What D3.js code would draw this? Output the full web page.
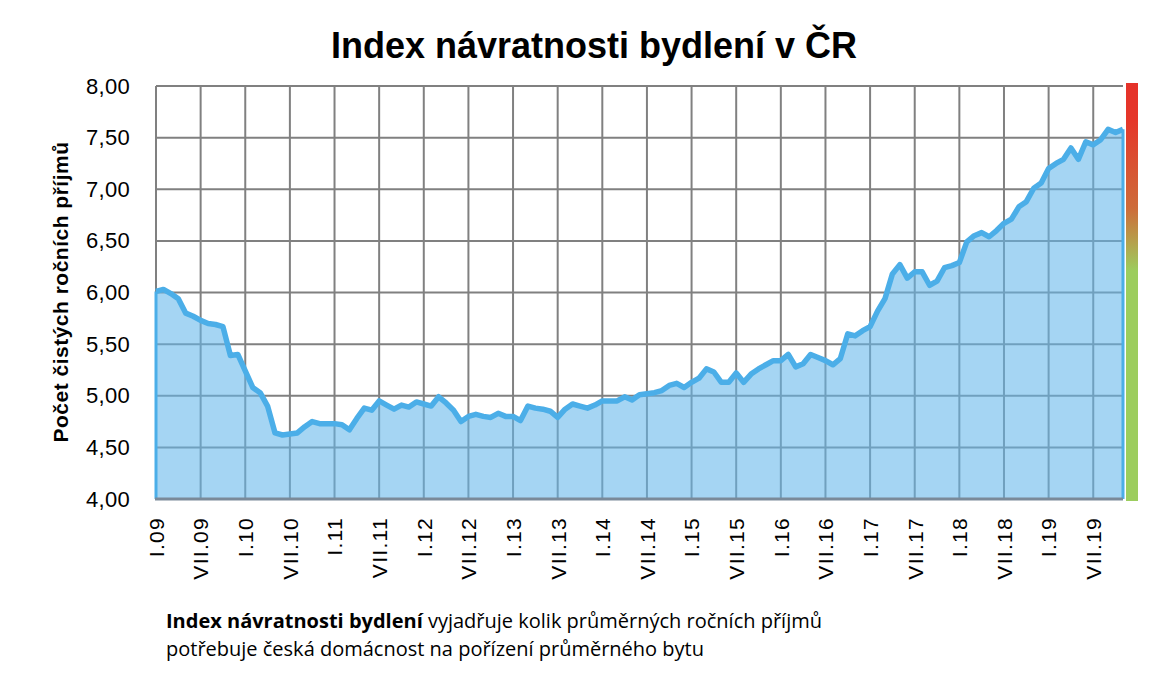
<!DOCTYPE html>
<html>
<head>
<meta charset="utf-8">
<script src="https://cdn.jsdelivr.net/npm/d3@7"></script>
<style>
  body { margin: 0; background: #fff; }
  svg { display: block; }
</style>
</head>
<body>
<svg id="chart" width="1158" height="674"></svg>
<script>
// index values, monthly I.09 .. XI.19
const values = [
  6.01, 6.03, 5.99, 5.94, 5.80, 5.77, 5.73, 5.70, 5.69, 5.67, 5.39, 5.40,
  5.24, 5.08, 5.03, 4.90, 4.64, 4.62, 4.63, 4.64, 4.70, 4.75, 4.73, 4.73,
  4.73, 4.72, 4.67, 4.78, 4.88, 4.86, 4.95, 4.91, 4.87, 4.91, 4.89, 4.94,
  4.92, 4.90, 4.99, 4.93, 4.86, 4.75, 4.80, 4.82, 4.80, 4.79, 4.83, 4.80,
  4.80, 4.76, 4.90, 4.88, 4.87, 4.85, 4.79, 4.87, 4.92, 4.90, 4.88, 4.91,
  4.95, 4.95, 4.95, 4.99, 4.96, 5.01, 5.02, 5.03, 5.05, 5.10, 5.12, 5.08,
  5.13, 5.17, 5.26, 5.23, 5.13, 5.13, 5.22, 5.13, 5.21, 5.26, 5.30, 5.34,
  5.34, 5.40, 5.28, 5.31, 5.40, 5.37, 5.34, 5.30, 5.36, 5.60, 5.58, 5.63,
  5.67, 5.82, 5.94, 6.18, 6.27, 6.14, 6.20, 6.20, 6.07, 6.11, 6.24, 6.26,
  6.29, 6.49, 6.55, 6.58, 6.54, 6.60, 6.67, 6.71, 6.83, 6.88, 7.01, 7.06,
  7.20, 7.25, 7.29, 7.40, 7.29, 7.46, 7.43, 7.48, 7.58, 7.55, 7.58
];
const romans = ['I','II','III','IV','V','VI','VII','VIII','IX','X','XI','XII'];
const years = ['09','10','11','12','13','14','15','16','17','18','19'];
const months = [];
years.forEach(y => romans.forEach(r => months.push(r + '.' + y)));
const categories = months.slice(0, values.length);
const tickLabels = [
  'I.09','VII.09','I.10','VII.10','I.11','VII.11','I.12','VII.12','I.13','VII.13','I.14',
  'VII.14','I.15','VII.15','I.16','VII.16','I.17','VII.17','I.18','VII.18','I.19','VII.19'
];
const yTicks = [4, 4.5, 5, 5.5, 6, 6.5, 7, 7.5, 8];

const svg = d3.select('#chart');
const plotLeft = 156, plotRight = 1123, plotTop = 86, plotBottom = 499;

const x = d3.scalePoint().domain(categories).range([plotLeft, plotRight]);
const y = d3.scaleLinear().domain([4, 8]).range([plotBottom, plotTop]);
const fmt = v => d3.format('.2f')(v).replace('.', ',');

// title
svg.append('text')
  .attr('x', 594).attr('y', 58)
  .attr('text-anchor', 'middle')
  .style('font-family', '"Liberation Sans", Arial, sans-serif')
  .style('font-weight', 'bold')
  .style('font-size', '36px')
  .text('Index návratnosti bydlení v ČR');

// grid
const grid = svg.append('g');
grid.selectAll('line.h').data(yTicks).enter().append('line')
  .attr('x1', plotLeft).attr('x2', plotRight)
  .attr('y1', d => y(d)).attr('y2', d => y(d))
  .attr('stroke', '#808080').attr('stroke-width', 2);
grid.selectAll('line.v').data(tickLabels).enter().append('line')
  .attr('x1', d => x(d)).attr('x2', d => x(d))
  .attr('y1', plotTop).attr('y2', plotBottom)
  .attr('stroke', '#808080').attr('stroke-width', 2);

// area
const area = d3.area()
  .x((d, i) => x(categories[i]))
  .y0(plotBottom)
  .y1(d => y(d));
svg.append('path')
  .datum(values)
  .attr('d', area)
  .attr('fill', 'rgb(100,183,234)')
  .attr('fill-opacity', 0.58);

// edges of the area
const lastCat = categories[values.length - 1];
svg.append('line')
  .attr('x1', x(categories[0])).attr('x2', x(categories[0]))
  .attr('y1', plotBottom).attr('y2', y(values[0]))
  .attr('stroke', '#4baee8').attr('stroke-width', 3);
svg.append('line')
  .attr('x1', x(lastCat)).attr('x2', x(lastCat))
  .attr('y1', plotBottom).attr('y2', y(values[values.length - 1]))
  .attr('stroke', '#4baee8').attr('stroke-width', 3);

// data line
const line = d3.line()
  .x((d, i) => x(categories[i]))
  .y(d => y(d));
svg.append('path')
  .datum(values)
  .attr('d', line)
  .attr('fill', 'none')
  .attr('stroke', '#4baee8')
  .attr('stroke-width', 5.5)
  .attr('stroke-linejoin', 'round');

// bottom axis line
svg.append('line')
  .attr('x1', plotLeft - 1).attr('x2', plotRight)
  .attr('y1', plotBottom).attr('y2', plotBottom)
  .attr('stroke', '#7a8a99').attr('stroke-width', 3);

// y axis labels
const yAxis = d3.axisLeft(y).tickValues(yTicks).tickFormat(fmt).tickSize(0).tickPadding(26);
const gy = svg.append('g').attr('transform', `translate(${plotLeft},0)`).call(yAxis);
gy.select('.domain').remove();
gy.selectAll('text')
  .style('font-family', '"Liberation Sans", Arial, sans-serif')
  .style('font-size', '22px')
  .style('letter-spacing', '0.3px')
  .attr('fill', '#000');

// x axis labels
const xAxis = d3.axisBottom(x).tickValues(tickLabels).tickSize(0);
const gx = svg.append('g').attr('transform', `translate(0,${plotBottom})`).call(xAxis);
gx.select('.domain').remove();
gx.selectAll('text')
  .attr('transform', 'rotate(-90)')
  .attr('text-anchor', 'end')
  .attr('x', -18)
  .attr('y', 0)
  .attr('dy', '0.35em')
  .style('font-family', '"Liberation Sans", Arial, sans-serif')
  .style('font-size', '21px')
  .style('letter-spacing', '1.3px')
  .attr('fill', '#000');

// y axis title
svg.append('text')
  .attr('transform', 'translate(68,292) rotate(-90)')
  .attr('text-anchor', 'middle')
  .style('font-family', '"Liberation Sans", Arial, sans-serif')
  .style('font-weight', 'bold')
  .style('font-size', '21px')
  .style('letter-spacing', '0.5px')
  .text('Počet čistých ročních příjmů');

// colour scale bar
const defs = svg.append('defs');
const grad = defs.append('linearGradient').attr('id', 'bar')
  .attr('x1', 0).attr('x2', 0).attr('y1', 0).attr('y2', 1);
[[0, '#e5322a'], [0.09, '#e5372a'], [0.3, '#cd6c3a'], [0.38, '#b5a04c'], [0.45, '#9ccd5e'], [1, '#9ccd5e']]
  .forEach(s => grad.append('stop').attr('offset', s[0]).attr('stop-color', s[1]));
svg.append('rect')
  .attr('x', 1126).attr('y', 83)
  .attr('width', 12).attr('height', plotBottom + 2 - 83)
  .attr('fill', 'url(#bar)');

// footnote
const note = svg.append('text')
  .attr('x', 166).attr('y', 628)
  .style('font-family', '"Open Sans", sans-serif')
  .style('font-size', '20px');
note.append('tspan').style('font-weight', 'bold').text('Index návratnosti bydlení');
note.append('tspan').text(' vyjadřuje kolik průměrných ročních příjmů');
svg.append('text')
  .attr('x', 166).attr('y', 656)
  .style('font-family', '"Open Sans", sans-serif')
  .style('font-size', '20px')
  .text('potřebuje česká domácnost na pořízení průměrného bytu');
</script>
</body>
</html>
